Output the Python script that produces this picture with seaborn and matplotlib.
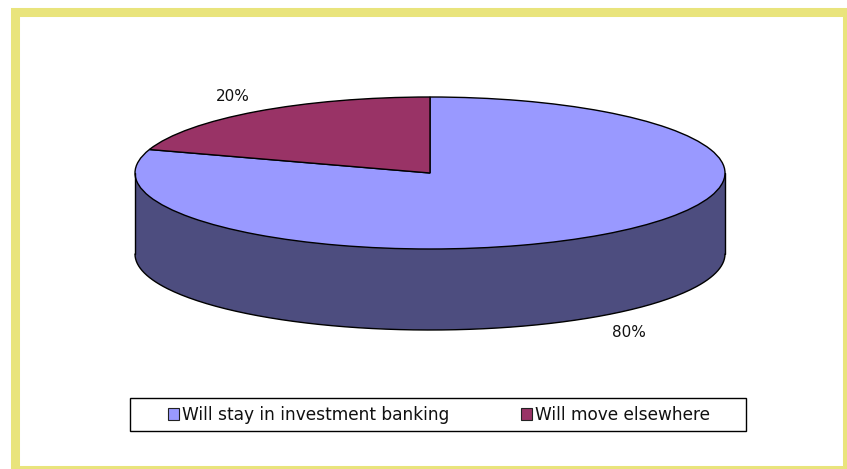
import numpy as np
import seaborn as sns
import matplotlib.pyplot as plt
from matplotlib.patches import Patch, Rectangle

categories = ['Will stay in investment banking', 'Will move elsewhere']
shares = [80, 20]

colors = ['#9999ff', '#993366']
side_color = '#4d4d7f'
frame_color = '#e9e47c'

sns.set_theme(style='white')
plt.rcParams['font.family'] = ['DejaVu Sans']

W, H = 847, 469
fig = plt.figure(figsize=(W / 100, H / 100), dpi=100)

# yellow border, runs off the right and bottom edges a bit
fig.add_artist(Rectangle((14.8 / W, 1 - 469.5 / H), 831.7 / W, 457.5 / H, transform=fig.transFigure,
                         fill=False, edgecolor=frame_color, linewidth=6.5))

# tilted pie: radius is 295px across, 76px up, side wall is 81px
depth = 81 / 76
ax = fig.add_axes([135 / W, 1 - 330 / H, 590 / W, 233 / H])

ax.pie(shares, colors=[side_color, side_color], startangle=90, counterclock=False,
       center=(0, -depth), wedgeprops={'linewidth': 0}, frame=True)
ax.fill_between([-1, 1], [-depth, -depth], [0, 0], color=side_color, linewidth=0)
ax.plot([-1, -1], [0, -depth], color='black', lw=1)
ax.plot([1, 1], [0, -depth], color='black', lw=1)

# bottom edge only, the top half is hidden by the lid
t = np.linspace(np.pi, 2 * np.pi, 200)
ax.plot(np.cos(t), np.sin(t) - depth, color='black', lw=1)

ax.pie(shares, colors=colors, startangle=90, counterclock=False,
       wedgeprops={'edgecolor': 'black', 'linewidth': 1}, frame=True)

ax.set_aspect('auto')
ax.set_xlim(-1, 1)
ax.set_ylim(-1 - depth, 1)
ax.axis('off')
for a in ax.get_children():
    a.set_clip_on(False)

ax.text(0.675, -2.10, f'{shares[0]}%', ha='center', va='center', fontsize=11, color='#111111')
ax.text(-0.667, 1.01, f'{shares[1]}%', ha='center', va='center', fontsize=11, color='#111111')

# legend box is wider than its content so draw it separately
fig.add_artist(Rectangle((130 / W, 1 - 431 / H), 616 / W, 33 / H, transform=fig.transFigure,
                         fill=False, edgecolor='black', linewidth=1))
handles = [Patch(facecolor=c, edgecolor='#222222', linewidth=0.8) for c in colors]
fig.legend(handles, categories, ncol=2, loc='center', bbox_to_anchor=(439 / W, 1 - 415 / H),
           frameon=False, fontsize=12.25, labelcolor='#111111', handlelength=0.62, handleheight=0.62,
           handletextpad=0.16, columnspacing=4.25, borderpad=0)

fig.savefig('out.png', dpi=100)
